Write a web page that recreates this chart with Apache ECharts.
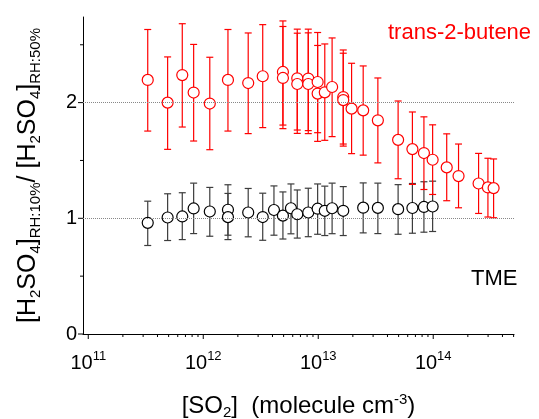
<!DOCTYPE html>
<html><head><meta charset="utf-8">
<script src="https://cdn.jsdelivr.net/npm/echarts@6/dist/echarts.min.js"></script>
<style>html,body{margin:0;padding:0;background:#fff}#c{width:539px;height:419px}</style>
</head><body><div id="c"></div>
<script>
// ---- data ----
const redX = [3.29e11, 4.90e11, 6.57e11, 8.25e11, 1.14e12, 1.64e12, 2.46e12, 3.29e12, 4.93e12, 4.93e12,
  6.57e12, 6.57e12, 8.19e12, 8.19e12, 9.88e12, 9.88e12, 1.14e13, 1.32e13, 1.65e13, 1.65e13,
  1.95e13, 2.46e13, 3.30e13, 4.95e13, 6.59e13, 8.30e13, 9.88e13, 1.31e14, 1.66e14, 2.48e14, 2.99e14, 3.35e14];
const redY = [2.196, 2.000, 2.238, 2.087, 1.992, 2.196, 2.169, 2.228, 2.265, 2.213,
  2.210, 2.161, 2.208, 2.161, 2.178, 2.078, 2.089, 2.135, 2.048, 2.022,
  1.948, 1.933, 1.847, 1.678, 1.598, 1.564, 1.506, 1.440, 1.365, 1.301, 1.267, 1.261];
const redHigh = [2.632, 2.395, 2.682, 2.503, 2.392, 2.632, 2.602, 2.674, 2.706, 2.658,
  2.635, 2.600, 2.635, 2.603, 2.606, 2.494, 2.507, 2.559, 2.455, 2.427,
  2.340, 2.317, 2.213, 2.014, 1.919, 1.877, 1.808, 1.730, 1.642, 1.561, 1.519, 1.513];
const redLow = [1.754, 1.596, 1.789, 1.668, 1.593, 1.754, 1.732, 1.784, 1.806, 1.775,
  1.763, 1.734, 1.758, 1.732, 1.740, 1.665, 1.674, 1.706, 1.642, 1.624,
  1.559, 1.546, 1.479, 1.342, 1.293, 1.249, 1.206, 1.152, 1.091, 1.042, 1.011, 1.005];

const blackX = [3.29e11, 4.90e11, 6.57e11, 8.25e11, 1.14e12, 1.64e12, 1.64e12, 2.46e12, 3.29e12, 4.12e12,
  4.93e12, 5.79e12, 6.57e12, 8.19e12, 9.88e12, 1.14e13, 1.32e13, 1.65e13, 2.46e13, 3.30e13,
  4.95e13, 6.59e13, 8.30e13, 9.88e13];
const blackY = [0.961, 1.007, 1.016, 1.085, 1.059, 1.074, 1.010, 1.050, 1.011, 1.072,
  1.023, 1.087, 1.035, 1.050, 1.083, 1.065, 1.087, 1.065, 1.092, 1.090,
  1.079, 1.089, 1.098, 1.102];
const blackHigh = [1.148, 1.212, 1.221, 1.304, 1.267, 1.290, 1.215, 1.258, 1.217, 1.280,
  1.228, 1.297, 1.245, 1.260, 1.297, 1.278, 1.304, 1.274, 1.306, 1.304,
  1.291, 1.301, 1.316, 1.321];
const blackLow = [0.765, 0.808, 0.816, 0.868, 0.845, 0.854, 0.816, 0.840, 0.810, 0.854,
  0.821, 0.866, 0.829, 0.841, 0.862, 0.851, 0.867, 0.851, 0.874, 0.868,
  0.862, 0.871, 0.880, 0.886];

const xMin = 9.0e10, xMax = 5.04e14;
const yMin = 0, yMax = 2.74;
const xMajorTicks = [1e11, 1e12, 1e13, 1e14];
const yMajorTicks = [0, 1, 2];
const yMinorTicks = [0.5, 1.5, 2.5];
const refLines = [1, 2];

// minor log ticks (2..9 x 10^n) inside the axis range
const xMinorTicks = [];
for (let n = 10; n <= 14; n++) for (let k = 2; k <= 9; k++) {
  const v = k * Math.pow(10, n);
  if (v > xMin && v < xMax) xMinorTicks.push(v);
}

const FONT = '"Liberation Sans", Arial, Helvetica, sans-serif';
const RED = '#ff0000', BLACK = '#000000';

function errRender(color) {
  return function (params, api) {
    const x = api.value(0);
    const p1 = api.coord([x, api.value(1)]);
    const p2 = api.coord([x, api.value(2)]);
    const w = 3.5;
    const st = { stroke: color, lineWidth: 1.2 };
    return { type: 'group', children: [
      { type: 'line', shape: { x1: p1[0], y1: p1[1], x2: p2[0], y2: p2[1] }, style: st },
      { type: 'line', shape: { x1: p1[0] - w, y1: p1[1], x2: p1[0] + w, y2: p1[1] }, style: st },
      { type: 'line', shape: { x1: p2[0] - w, y1: p2[1], x2: p2[0] + w, y2: p2[1] }, style: st }
    ]};
  };
}

// tick items: [x, y, kind]  kind 0 x-major, 1 x-minor, 2 y-major, 3 y-minor
const tickData = [];
xMajorTicks.forEach(v => tickData.push([v, yMin, 0]));
xMinorTicks.forEach(v => tickData.push([v, yMin, 1]));
yMajorTicks.forEach(v => tickData.push([xMin, v, 2]));
yMinorTicks.forEach(v => tickData.push([xMin, v, 3]));

function tickRender(params, api) {
  const p = api.coord([api.value(0), api.value(1)]);
  const kind = api.value(2);
  const len = (kind === 0 || kind === 2) ? 5 : 3;
  let shape;
  if (kind < 2) shape = { x1: p[0], y1: p[1], x2: p[0], y2: p[1] + len };
  else shape = { x1: p[0], y1: p[1], x2: p[0] - len, y2: p[1] };
  return { type: 'line', shape: shape, style: { stroke: '#000', lineWidth: 1 } };
}

const chart = echarts.init(document.getElementById('c'), null, { renderer: 'canvas' });
chart.setOption({
  animation: false,
  backgroundColor: '#ffffff',
  textStyle: { fontFamily: FONT },
  grid: { left: 83, right: 25, top: 17, bottom: 85, containLabel: false, outerBoundsMode: 'none' },
  xAxis: {
    type: 'log', logBase: 10, min: xMin, max: xMax,
    axisLine: { show: true, onZero: false, lineStyle: { color: '#000', width: 1 } },
    axisTick: { show: false },
    splitLine: { show: false },
    axisLabel: {
      margin: 16, color: '#000', fontFamily: FONT,
      showMinLabel: false, showMaxLabel: false,
      formatter: function (v) {
        const e = Math.log10(v), r = Math.round(e);
        if (Math.abs(e - r) > 1e-6) return '';
        return '{b|10}{p|' + r + '}';
      },
      rich: {
        b: { fontSize: 20, lineHeight: 26, fontFamily: FONT, color: '#000' },
        p: { fontSize: 13, lineHeight: 13, verticalAlign: 'top', fontFamily: FONT, color: '#000' }
      }
    },
    name: '{m|[SO}{s|2}{m|]  (molecule cm}{p|-3}{m|)}',
    nameLocation: 'middle', nameGap: 58,
    nameTextStyle: {
      rich: {
        m: { fontSize: 24, lineHeight: 28, fontFamily: FONT, color: '#000' },
        s: { fontSize: 15, lineHeight: 15, verticalAlign: 'bottom', fontFamily: FONT, color: '#000' },
        p: { fontSize: 15, lineHeight: 15, verticalAlign: 'top', fontFamily: FONT, color: '#000' }
      }
    }
  },
  yAxis: {
    type: 'value', min: yMin, max: yMax,
    axisLine: { show: true, onZero: false, lineStyle: { color: '#000', width: 1 } },
    axisTick: { show: false },
    splitLine: { show: false },
    axisLabel: {
      margin: 6, color: '#000', fontSize: 20, fontFamily: FONT,
      showMaxLabel: false,
      formatter: function (v) { return Number.isInteger(v) ? String(v) : ''; }
    },
    name: '{m|[H}{s|2}{m|SO}{s|4}{m|]}{s|RH:10%}{m|/ [H}{s|2}{m|SO}{s|4}{m|]}{s|RH:50%}',
    nameLocation: 'middle', nameGap: 40, nameRotate: 90,
    nameTextStyle: {
      rich: {
        m: { fontSize: 25, lineHeight: 30, fontFamily: FONT, color: '#000' },
        s: { fontSize: 15, lineHeight: 15, verticalAlign: 'bottom', fontFamily: FONT, color: '#000' }
      }
    }
  },
  graphic: [
    { type: 'text', left: 388, top: 22, style: { text: 'trans-2-butene', fill: RED, font: '22px ' + FONT } },
    { type: 'text', left: 471, top: 268, style: { text: 'TME', fill: '#000', font: '22px ' + FONT } }
  ],
  series: [
    {
      type: 'custom', name: 'ticks', data: tickData, renderItem: tickRender, clip: false, silent: true, z: 1,
      encode: { x: 0, y: 1 }
    },
    {
      type: 'line', name: 'ref', data: [], silent: true,
      markLine: {
        silent: true, symbol: ['none', 'none'], label: { show: false },
        lineStyle: { type: 'dotted', color: '#888', width: 1 },
        data: refLines.map(v => ({ yAxis: v }))
      }
    },
    {
      type: 'custom', name: 'TME err', renderItem: errRender('#3c3c3c'), z: 2,
      encode: { x: 0, y: [1, 2] },
      data: blackX.map((x, i) => [x, blackLow[i], blackHigh[i]])
    },
    {
      type: 'custom', name: 'butene err', renderItem: errRender(RED), z: 2,
      encode: { x: 0, y: [1, 2] },
      data: redX.map((x, i) => [x, redLow[i], redHigh[i]])
    },
    {
      type: 'scatter', name: 'TME', symbol: 'circle', symbolSize: 11, z: 3,
      itemStyle: { color: '#fff', borderColor: BLACK, borderWidth: 1.2, opacity: 1 },
      data: blackX.map((x, i) => [x, blackY[i]])
    },
    {
      type: 'scatter', name: 'trans-2-butene', symbol: 'circle', symbolSize: 11, z: 3,
      itemStyle: { color: '#fff', borderColor: RED, borderWidth: 1.2, opacity: 1 },
      data: redX.map((x, i) => [x, redY[i]])
    }
  ]
});
</script>
</body></html>
